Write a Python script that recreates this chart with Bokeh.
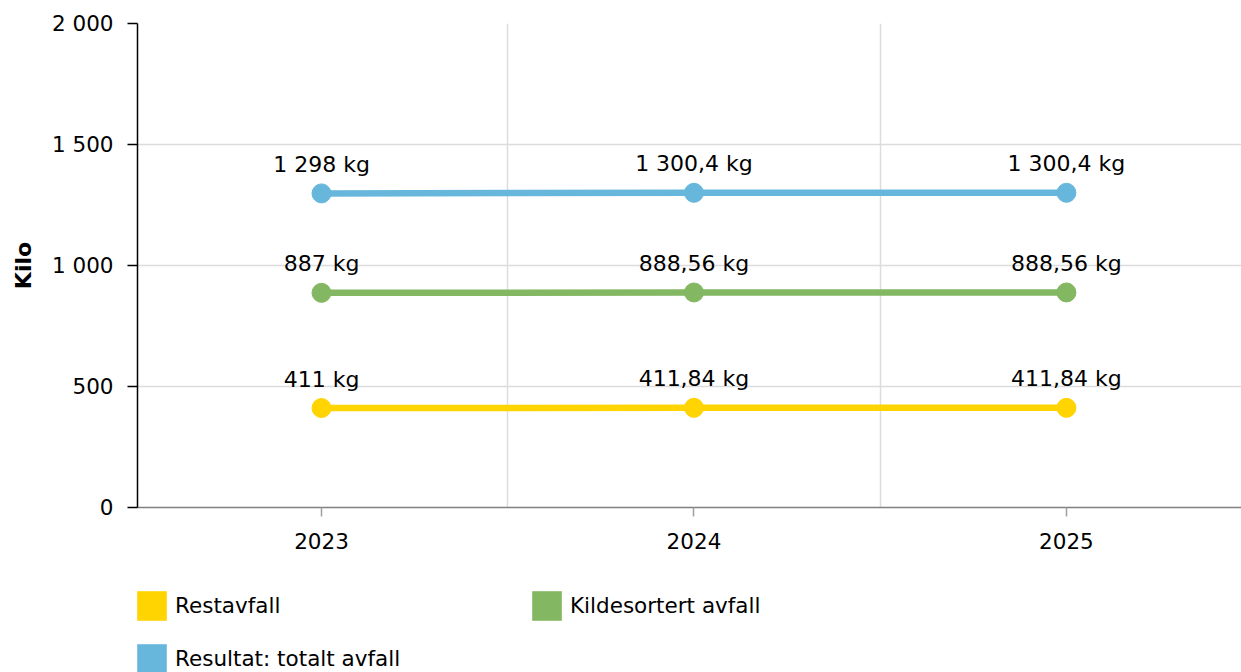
from bokeh.plotting import figure
from bokeh.layouts import column
from bokeh.models import (Range1d, FixedTicker, Legend, LegendItem, ColumnDataSource)
from bokeh.core.properties import value
from bokeh.embed import file_html
from bokeh.resources import INLINE

# ---- data ----
years = ["2023", "2024", "2025"]
restavfall = [411, 411.84, 411.84]
kildesortert = [887, 888.56, 888.56]
totalt = [1298, 1300.4, 1300.4]
series_names = ["Restavfall", "Kildesortert avfall", "Resultat: totalt avfall"]
series_colors = ["#FFD400", "#84B762", "#67B7DC"]
y_ticks = [0, 500, 1000, 1500, 2000]
y_tick_labels = ["0", "500", "1 000", "1 500", "2 000"]

FONT = "DejaVu Sans"
W = 1241


def fmt(v):
    s = f"{v:.2f}".rstrip("0").rstrip(".")
    if "." in s:
        ip, dp = s.split(".")
    else:
        ip, dp = s, ""
    ip = f"{int(ip):,}".replace(",", " ")
    return (ip + ("," + dp if dp else "")) + " kg"


xs = list(range(len(years)))

p = figure(width=W, height=560, output_backend="svg", toolbar_location=None,
           x_range=Range1d(-0.494, 2.47), y_range=Range1d(0, 2000),
           min_border_left=137, min_border_right=0, min_border_top=23,
           min_border_bottom=53)
p.outline_line_color = None
p.background_fill_color = "white"
p.border_fill_color = "white"

# axes
p.yaxis.ticker = FixedTicker(ticks=y_ticks)
p.yaxis.major_label_overrides = {t: l for t, l in zip(y_ticks, y_tick_labels)}
p.yaxis.axis_line_color = "black"
p.yaxis.axis_line_width = 1.5
p.yaxis.major_tick_line_color = "black"
p.yaxis.major_tick_line_width = 1.5
p.yaxis.major_tick_out = 10
p.yaxis.major_tick_in = 0
p.yaxis.minor_tick_line_color = None
p.yaxis.major_label_standoff = 14
p.yaxis.major_label_text_font = FONT
p.yaxis.major_label_text_font_size = "21.5px"
p.yaxis.major_label_text_color = "black"
p.yaxis.axis_label = "Kilo"
p.yaxis.axis_label_text_font = FONT
p.yaxis.axis_label_text_font_size = "22px"
p.yaxis.axis_label_text_font_style = "bold"
p.yaxis.axis_label_text_color = "black"
p.yaxis.axis_label_standoff = 13

p.xaxis.ticker = FixedTicker(ticks=xs)
p.xaxis.major_label_overrides = {i: y for i, y in zip(xs, years)}
p.xaxis.axis_line_color = "#808080"
p.xaxis.axis_line_width = 1.5
p.xaxis.major_tick_line_color = "#a0a0a0"
p.xaxis.major_tick_line_width = 1.5
p.xaxis.major_tick_out = 9
p.xaxis.major_tick_in = 0
p.xaxis.minor_tick_line_color = None
p.xaxis.major_label_standoff = 16
p.xaxis.major_label_text_font = FONT
p.xaxis.major_label_text_font_size = "21.5px"
p.xaxis.major_label_text_color = "black"

p.ygrid.ticker = FixedTicker(ticks=y_ticks)
p.ygrid.grid_line_color = "#dcdcdc"
p.ygrid.grid_line_width = 1.5
p.xgrid.ticker = FixedTicker(ticks=[i + 0.5 for i in xs[:-1]])
p.xgrid.grid_line_color = "#dcdcdc"
p.xgrid.grid_line_width = 1.5

# legend figure (below the chart)
lg = figure(width=W, height=112, output_backend="svg", toolbar_location=None,
            x_range=Range1d(0, 1), y_range=Range1d(0, 1),
            x_axis_location=None, y_axis_location=None, min_border=0)
lg.grid.visible = False
lg.outline_line_color = None
lg.background_fill_color = "white"
lg.border_fill_color = "white"

items = {}
for name, vals, color in zip(series_names, [restavfall, kildesortert, totalt], series_colors):
    src = ColumnDataSource(dict(x=xs, y=vals, label=[fmt(v) for v in vals]))
    p.line("x", "y", source=src, line_color=color, line_width=6.5)
    p.scatter("x", "y", source=src, size=19, fill_color=color, line_color=color)
    p.text("x", "y", text="label", source=src, text_font=value(FONT),
           text_font_size="22px", text_color="black", text_align="center",
           text_baseline="alphabetic", y_offset=-29)
    swatch = lg.block("x", "y", source=src, width=0, height=0,
                      fill_color=color, line_color=None)
    swatch.visible = False
    items[name] = LegendItem(label=name, renderers=[swatch])

# column-major fill: column 1 = Restavfall, Resultat; column 2 = Kildesortert
ordered = [items[series_names[0]], items[series_names[2]], items[series_names[1]]]

legend = Legend(items=ordered, ncols=2, location=(-4, -5),
                glyph_width=37, glyph_height=37, label_standoff=5,
                spacing=16, label_width=337, padding=0, margin=0,
                border_line_color=None, background_fill_alpha=0,
                label_text_font=FONT, label_text_font_size="21.5px",
                label_text_color="black", label_height=30)
lg.add_layout(legend, "center")

layout = column(p, lg, spacing=0)
open("out.html", "w").write(file_html(layout, INLINE))
